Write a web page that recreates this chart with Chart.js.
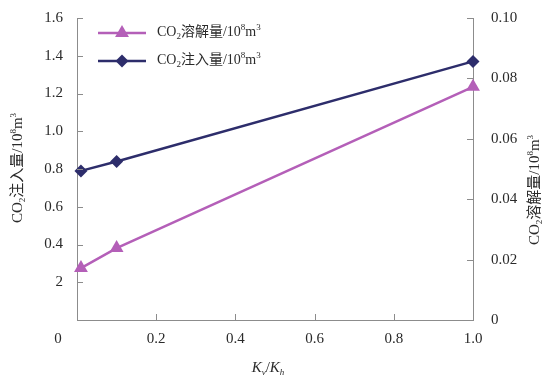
<!DOCTYPE html>
<html>
<head>
<meta charset="utf-8">
<script src="https://cdn.jsdelivr.net/npm/chart.js@4.4.0/dist/chart.umd.min.js"></script>
<style>
html,body{margin:0;padding:0;background:#fff;}
#wrap{width:544px;height:378px;position:relative;}
</style>
</head>
<body>
<div id="wrap"><canvas id="c" width="544" height="378"></canvas></div>
<script>
// ---- data ----
const xValues = [0.01, 0.1, 1.0];
const injectionValues = [0.79, 0.84, 1.37];        // left axis, 10^8 m^3
const dissolutionValues = [0.0172, 0.0238, 0.0772]; // right axis, 10^8 m^3
const xTickLabels = ['0', '0.2', '0.4', '0.6', '0.8', '1.0'];
const leftTickLabels = ['0', '2', '0.4', '0.6', '0.8', '1.0', '1.2', '1.4', '1.6'];
const rightTickLabels = ['0', '0.02', '0.04', '0.06', '0.08', '0.10'];
const dissolutionName = [['CO'], ['2', 'sub'], ['溶解量/10'], ['8', 'sup'], ['m'], ['3', 'sup']];
const injectionName = [['CO'], ['2', 'sub'], ['注入量/10'], ['8', 'sup'], ['m'], ['3', 'sup']];
const xTitle = [['K', 'it'], ['v', 'subit'], ['/'], ['K', 'it'], ['h', 'subit']];

const PURPLE = '#b45fb8';
const NAVY = '#2d2d6b';
const AXIS = '#8c8c8c';
const TXT = '#2a2a2a';
const FAM = "'Liberation Serif','Noto Sans CJK SC',serif";

function segFont(kind, size) {
  const small = kind && kind.indexOf('sub') === 0 || kind === 'sup';
  const s = small ? Math.round(size * 0.62) : size;
  const it = kind && kind.indexOf('it') >= 0 ? 'italic ' : '';
  return it + s + 'px ' + FAM;
}
function drawRich(ctx, segs, x, y, size) {
  let total = 0;
  segs.forEach(s => { ctx.font = segFont(s[1], size); total += ctx.measureText(s[0]).width; });
  let cx = x - total / 2;
  ctx.textBaseline = 'middle';
  ctx.textAlign = 'left';
  segs.forEach(s => {
    ctx.font = segFont(s[1], size);
    let dy = 0;
    if (s[1] && s[1].indexOf('sub') === 0) dy = size * 0.32;
    if (s[1] === 'sup') dy = -size * 0.32;
    ctx.fillText(s[0], cx, y + dy);
    cx += ctx.measureText(s[0]).width;
  });
  return total;
}
function richWidth(ctx, segs, size) {
  let total = 0;
  segs.forEach(s => { ctx.font = segFont(s[1], size); total += ctx.measureText(s[0]).width; });
  return total;
}
function marker(ctx, style, x, y, r, color) {
  ctx.save();
  ctx.fillStyle = color;
  ctx.beginPath();
  if (style === 'triangle') {
    const w = r * Math.sqrt(3);
    ctx.moveTo(x, y - r);
    ctx.lineTo(x + w / 2, y + r / 2);
    ctx.lineTo(x - w / 2, y + r / 2);
  } else {
    ctx.moveTo(x, y - r);
    ctx.lineTo(x + r, y);
    ctx.lineTo(x, y + r);
    ctx.lineTo(x - r, y);
  }
  ctx.closePath();
  ctx.fill();
  ctx.restore();
}

const extras = {
  id: 'extras',
  afterDraw(chart) {
    const ctx = chart.ctx;
    const xs = chart.scales.x, yl = chart.scales.y, yr = chart.scales.y1;
    const a = chart.chartArea;
    ctx.save();
    // inward tick marks
    ctx.strokeStyle = AXIS;
    ctx.lineWidth = 1;
    ctx.beginPath();
    xs.ticks.forEach(t => {
      const px = Math.round(xs.getPixelForValue(t.value)) + 0.5;
      ctx.moveTo(px, a.bottom); ctx.lineTo(px, a.bottom - 6);
    });
    yl.ticks.forEach(t => {
      const py = Math.round(yl.getPixelForValue(t.value)) + 0.5;
      ctx.moveTo(a.left, py); ctx.lineTo(a.left + 6, py);
    });
    yr.ticks.forEach(t => {
      const py = Math.round(yr.getPixelForValue(t.value)) + 0.5;
      ctx.moveTo(a.right, py); ctx.lineTo(a.right - 6, py);
    });
    ctx.stroke();
    // the lone "0" set off below-left of the origin
    ctx.fillStyle = TXT;
    ctx.font = '15px ' + FAM;
    ctx.textAlign = 'center';
    ctx.textBaseline = 'middle';
    ctx.fillText(xTickLabels[0], xs.getPixelForValue(0) - 19, a.bottom + 19);
    // axis titles
    ctx.save();
    ctx.translate(18, 168);
    ctx.rotate(-Math.PI / 2);
    drawRich(ctx, injectionName, 0, 0, 15);
    ctx.restore();
    ctx.save();
    ctx.translate(535, 190);
    ctx.rotate(-Math.PI / 2);
    drawRich(ctx, dissolutionName, 0, 0, 15);
    ctx.restore();
    drawRich(ctx, xTitle, 268, 368, 15);
    // legend
    const items = [
      { name: dissolutionName, color: PURPLE, style: 'triangle', r: 8, y: 33 },
      { name: injectionName, color: NAVY, style: 'diamond', r: 6.5, y: 61 }
    ];
    items.forEach(it => {
      ctx.strokeStyle = it.color;
      ctx.lineWidth = 2.5;
      ctx.beginPath();
      ctx.moveTo(98, it.y); ctx.lineTo(146, it.y);
      ctx.stroke();
      marker(ctx, it.style, 122, it.y, it.r, it.color);
      ctx.fillStyle = TXT;
      const w = richWidth(ctx, it.name, 14);
      drawRich(ctx, it.name, 157 + w / 2, it.y - 1, 14);
    });
    ctx.restore();
  }
};

const tickFont = { family: FAM, size: 15 };
function fitV(width) {
  return s => { s.width = width; s.paddingTop = 0; s.paddingBottom = 0; };
}

new Chart(document.getElementById('c'), {
  type: 'line',
  data: {
    datasets: [
      {
        label: 'CO2溶解量/10^8m^3',
        data: xValues.map((x, i) => ({ x: x, y: dissolutionValues[i] })),
        yAxisID: 'y1',
        borderColor: PURPLE,
        backgroundColor: PURPLE,
        borderWidth: 2.5,
        pointStyle: 'triangle',
        pointRadius: 8,
        pointBorderWidth: 0,
        tension: 0,
        clip: false
      },
      {
        label: 'CO2注入量/10^8m^3',
        data: xValues.map((x, i) => ({ x: x, y: injectionValues[i] })),
        yAxisID: 'y',
        borderColor: NAVY,
        backgroundColor: NAVY,
        borderWidth: 2.5,
        pointStyle: 'rectRot',
        pointRadius: 6.5,
        pointBorderWidth: 0,
        tension: 0,
        clip: false
      }
    ]
  },
  options: {
    responsive: false,
    animation: false,
    devicePixelRatio: 1,
    layout: { padding: { top: 18, left: 0, right: 0, bottom: 0 } },
    plugins: { legend: { display: false }, tooltip: { enabled: false } },
    scales: {
      x: {
        type: 'linear', min: 0, max: 1, position: 'bottom',
        afterFit: s => { s.height = 58; s.paddingLeft = 0; s.paddingRight = 0; },
        grid: { display: false, drawTicks: false },
        border: { display: true, color: AXIS, width: 1 },
        ticks: {
          stepSize: 0.2, padding: 10, color: TXT, font: tickFont, maxRotation: 0,
          callback: (v, i) => i === 0 ? '' : xTickLabels[i]
        }
      },
      y: {
        type: 'linear', min: 0, max: 1.6, position: 'left',
        afterFit: fitV(77),
        grid: { display: false, drawTicks: false },
        border: { display: true, color: AXIS, width: 1 },
        ticks: {
          stepSize: 0.2, padding: 14, color: TXT, font: tickFont,
          callback: (v, i) => i === 0 ? '' : leftTickLabels[i]
        }
      },
      y1: {
        type: 'linear', min: 0, max: 0.1, position: 'right',
        afterFit: fitV(71),
        grid: { display: false, drawTicks: false },
        border: { display: true, color: AXIS, width: 1 },
        ticks: {
          stepSize: 0.02, padding: 18, color: TXT, font: tickFont,
          callback: (v, i) => rightTickLabels[i]
        }
      }
    }
  },
  plugins: [extras]
});
</script>
</body>
</html>
